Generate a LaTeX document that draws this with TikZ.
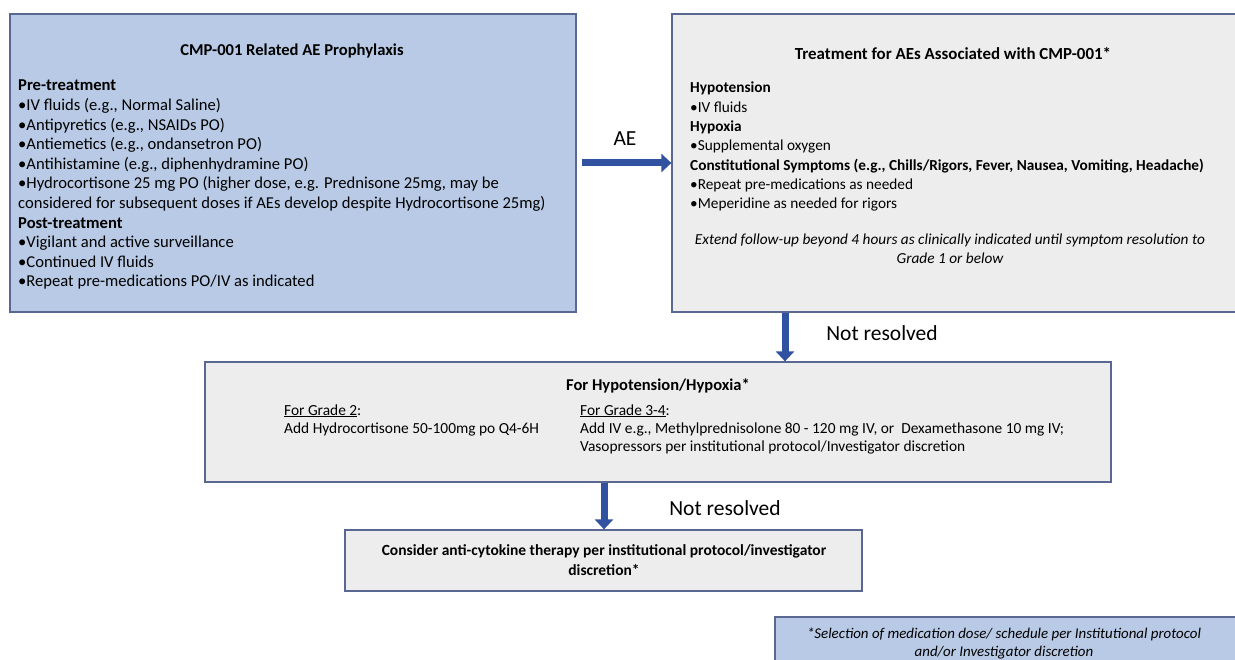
\documentclass[tikz,border=0pt]{standalone}
\usepackage{fontspec}
\setmainfont{Carlito}
\usetikzlibrary{arrows.meta}
\definecolor{bluefill}{HTML}{B8CAE5}
\definecolor{grayfill}{HTML}{EDEDED}
\definecolor{boxline}{HTML}{5A6790}
\definecolor{arrowblue}{HTML}{3052A0}
\newcommand\blk[2]{\parbox[t]{#1}{#2}}
\tikzset{
  panel/.style={draw=boxline, line width=1.2pt, inner sep=0pt},
  bluepanel/.style={panel, fill=bluefill},
  graypanel/.style={panel, fill=grayfill},
  atxt/.style={inner sep=0pt, font=\fontsize{16.6}{19.6}\selectfont},
  btxt/.style={inner sep=0pt, font=\fontsize{15.3}{19.3}\selectfont},
  btitle/.style={inner sep=0pt, font=\fontsize{16.9}{19.6}\selectfont},
  ctxt/.style={inner sep=0pt, font=\fontsize{15.4}{18}\selectfont},
  ctitle/.style={inner sep=0pt, font=\fontsize{16.5}{18}\selectfont},
  dtxt/.style={inner sep=0pt, font=\fontsize{15.5}{20}\selectfont},
  etxt/.style={inner sep=0pt, font=\fontsize{14.9}{18}\selectfont},
  lbl/.style={inner sep=0pt, font=\fontsize{21.5}{24}\selectfont},
  bigarrow/.style={draw=arrowblue, line width=7pt, -{Triangle[length=10pt,width=18pt]}}
}
\begin{document}
\begin{tikzpicture}[x=1pt,y=-1pt]
\useasboundingbox (0,0) rectangle (1235,660);
% boxes
\node[bluepanel, minimum width=566pt, minimum height=298pt] (A) at (293,163) {};
\node[graypanel, minimum width=590pt, minimum height=298pt] (B) at (967,163) {};
\node[graypanel, minimum width=906pt, minimum height=120pt] (C) at (658,422) {};
\node[graypanel, minimum width=517pt, minimum height=61pt] (D) at (603.5,560.5) {};
\node[bluepanel, minimum width=470pt, minimum height=52pt] (E) at (1010,643) {};
% box A text
\node[atxt, anchor=base] (Atitle) at (292,56) {\bfseries CMP-001 Related AE Prophylaxis};
\node[atxt, anchor=base west] (Abody) at (18,91) {\blk{560pt}{\bfseries Pre-treatment\\
\mdseries •IV fluids (e.g., Normal Saline)\\
•Antipyretics (e.g., NSAIDs PO)\\
•Antiemetics (e.g., ondansetron PO)\\
•Antihistamine (e.g., diphenhydramine PO)\\
•Hydrocortisone 25 mg PO (higher dose, e.g. Prednisone 25mg, may be\\
considered for subsequent doses if AEs develop despite Hydrocortisone 25mg)\\
\bfseries Post-treatment\\
\mdseries •Vigilant and active surveillance\\
•Continued IV fluids\\
•Repeat pre-medications PO/IV as indicated}};
% box B text
\node[btitle, anchor=base] (Btitle) at (953,60) {\bfseries Treatment for AEs Associated with CMP-001*};
\node[btxt, anchor=base west] (Bbody) at (690,93) {\blk{560pt}{\bfseries Hypotension\\
\mdseries •IV fluids\\
\bfseries Hypoxia\\
\mdseries •Supplemental oxygen\\
\bfseries Constitutional Symptoms (e.g., Chills/Rigors, Fever, Nausea, Vomiting, Headache)\\
\mdseries •Repeat pre-medications as needed\\
•Meperidine as needed for rigors}};
\node[btxt, anchor=base, align=center] (Bnote) at (950,264) {\itshape Extend follow-up beyond 4 hours as clinically indicated until symptom resolution to\\ \itshape Grade 1 or below};
% box C text
\node[ctitle, anchor=base] (Ctitle) at (658,391) {\bfseries For Hypotension/Hypoxia*};
\node[ctxt, anchor=base west] (Cleft) at (284,415) {\blk{280pt}{\underline{For Grade 2}:\\
Add Hydrocortisone 50-100mg po Q4-6H}};
\node[ctxt, anchor=base west] (Cright) at (580,415) {\blk{520pt}{\underline{For Grade 3-4}:\\
Add IV e.g., Methylprednisolone 80 - 120 mg IV, or~ Dexamethasone 10 mg IV;\\
Vasopressors per institutional protocol/Investigator discretion}};
% box D text
\node[dtxt, anchor=base, align=center] (Dtext) at (604,575) {\bfseries Consider anti-cytokine therapy per institutional protocol/investigator\\ \bfseries discretion*};
% box E text
\node[etxt, anchor=base, align=center] (Etext) at (1004,656) {\itshape *Selection of medication dose/ schedule per Institutional protocol\\ \itshape and/or Investigator discretion};
% arrows
\draw[bigarrow, shorten <=5pt] (A.east) -- (B.west);
\node[lbl, anchor=base] (AE) at (625,146) {AE};
\draw[bigarrow] (B.south -| 785,0) -- (C.north -| 785,0);
\node[lbl, anchor=base] (NR1) at (882,341) {Not resolved};
\draw[bigarrow] (C.south -| 604,0) -- (D.north -| 604,0);
\node[lbl, anchor=base] (NR2) at (725,515) {Not resolved};
\end{tikzpicture}
\end{document}
